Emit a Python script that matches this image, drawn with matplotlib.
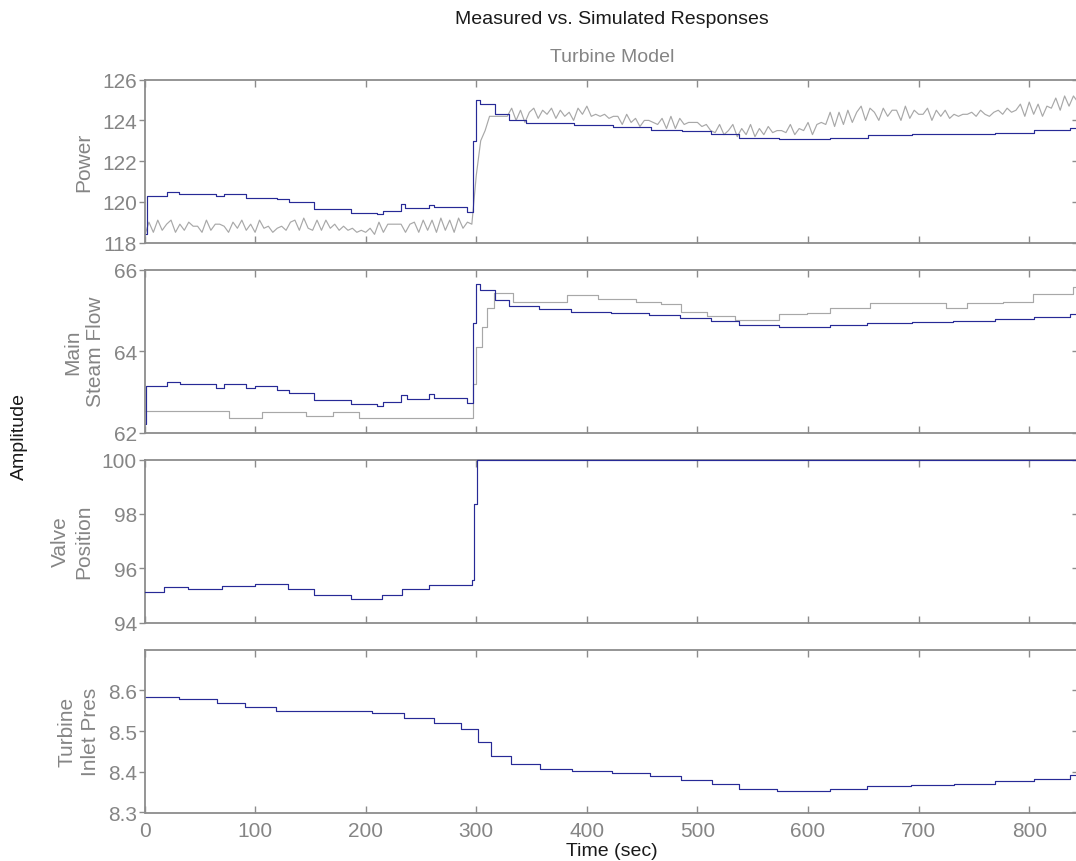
import numpy as np
import matplotlib.pyplot as plt

plt.rcParams['font.family'] = ['Liberation Sans', 'DejaVu Sans']

# Measured power, one reading every 4 s (gray, noisy)
pwr_meas_dt = 4
pwr_meas = [
    118.3, 119.0, 118.5, 119.1, 118.6, 118.9, 119.1, 118.5, 118.9, 118.6,
    119.0, 118.8, 118.8, 118.5, 119.1, 118.6, 118.9, 118.9, 118.8, 118.5,
    119.0, 118.7, 119.1, 118.6, 118.9, 118.5, 119.1, 118.7, 118.8, 118.5,
    118.7, 118.8, 118.6, 119.0, 119.1, 118.6, 119.2, 118.7, 118.6, 119.1,
    118.6, 119.1, 118.7, 118.9, 118.6, 118.8, 118.6, 118.7, 118.5, 118.6,
    118.5, 118.7, 118.4, 119.0, 118.5, 118.9, 118.9, 118.9, 118.9, 118.5,
    118.9, 119.0, 118.5, 119.1, 118.6, 119.1, 118.5, 119.2, 118.6, 119.1,
    118.5, 119.2, 118.7, 119.0, 118.9, 121.3, 123.0, 123.5, 124.2, 124.2,
    124.2, 124.2, 124.2, 124.6, 124.0, 124.5, 123.9, 124.4, 124.6, 124.1,
    124.5, 124.3, 124.6, 124.1, 124.5, 124.2, 124.4, 124.0, 124.6, 124.3,
    124.7, 124.2, 124.3, 124.2, 124.3, 124.1, 124.2, 124.2, 123.8, 124.3,
    123.9, 124.1, 123.7, 124.0, 124.0, 123.9, 123.8, 124.1, 123.6, 124.2,
    123.6, 124.1, 123.8, 123.9, 123.9, 123.9, 123.7, 123.8, 123.5, 123.4,
    123.8, 123.3, 123.5, 123.8, 123.2, 123.6, 123.3, 123.8, 123.2, 123.6,
    123.3, 123.7, 123.4, 123.5, 123.5, 123.4, 123.8, 123.3, 123.6, 123.5,
    123.9, 123.3, 123.8, 123.9, 123.8, 124.4, 123.7, 124.4, 123.8, 124.5,
    123.9, 124.4, 124.7, 124.0, 124.6, 124.4, 124.0, 124.6, 124.2, 124.5,
    124.5, 124.0, 124.7, 124.1, 124.5, 124.3, 124.3, 124.6, 124.0, 124.5,
    124.2, 124.5, 124.1, 124.3, 124.2, 124.3, 124.3, 124.4, 124.2, 124.5,
    124.3, 124.2, 124.4, 124.5, 124.3, 124.6, 124.4, 124.5, 124.8, 124.2,
    124.9, 124.3, 124.8, 124.2, 124.7, 124.6, 125.1, 124.5, 125.2, 124.7,
    125.2, 124.9,
]

# Simulated power (blue, piecewise constant)
pwr_sim_t = [0, 2, 20, 31, 65, 72, 92, 120, 131, 153, 187, 210, 216, 232, 236,
             257, 262, 292, 297, 300, 303, 317, 330, 345, 388, 424, 458, 486,
             512, 538, 574, 620, 654, 694, 769, 804, 837, 845]
pwr_sim = [118.4, 120.3, 120.5, 120.4, 120.3, 120.4, 120.2, 120.15, 120.0,
           119.65, 119.45, 119.4, 119.55, 119.88, 119.7, 119.85, 119.72, 119.52,
           123.0, 125.0, 124.8, 124.3, 124.0, 123.88, 123.77, 123.68, 123.51,
           123.46, 123.33, 123.14, 123.07, 123.14, 123.26, 123.31, 123.36,
           123.51, 123.63, 123.63]

# Measured main steam flow (gray)
flow_meas_t = [0, 76, 106, 146, 170, 194, 297, 300, 305, 310, 316, 333, 382,
               410, 444, 467, 485, 509, 534, 574, 599, 620, 656, 725, 744, 776,
               803, 840, 845]
flow_meas = [62.52, 62.35, 62.5, 62.4, 62.5, 62.35, 63.2, 64.1, 64.6, 65.05,
             65.42, 65.2, 65.37, 65.28, 65.21, 65.15, 64.97, 64.86, 64.77,
             64.92, 64.93, 65.07, 65.17, 65.05, 65.18, 65.2, 65.41, 65.58, 65.58]

# Simulated main steam flow (blue)
flow_sim_t = [0, 1, 20, 32, 65, 72, 92, 100, 120, 131, 153, 187, 210, 216, 232,
              237, 257, 262, 292, 297, 300, 303, 317, 330, 357, 386, 422, 456,
              484, 512, 538, 574, 620, 653, 694, 731, 769, 804, 837, 845]
flow_sim = [62.2, 63.15, 63.25, 63.2, 63.1, 63.2, 63.1, 63.15, 63.05, 62.98,
            62.8, 62.7, 62.65, 62.75, 62.92, 62.82, 62.95, 62.85, 62.72, 64.7,
            65.65, 65.5, 65.25, 65.1, 65.03, 64.97, 64.94, 64.88, 64.82, 64.73,
            64.63, 64.59, 64.64, 64.69, 64.71, 64.75, 64.78, 64.83, 64.92, 64.92]

# Valve position (blue)
valve_t = [0, 18, 39, 70, 100, 130, 153, 187, 215, 233, 257, 296, 298, 301, 845]
valve = [95.11, 95.3, 95.24, 95.35, 95.42, 95.25, 95.0, 94.87, 95.0, 95.25,
         95.4, 95.55, 98.35, 100.0, 100.0]

# Turbine inlet pressure (blue)
pres_t = [0, 31, 66, 91, 119, 206, 235, 262, 286, 302, 313, 331, 358, 387, 423,
          457, 485, 513, 538, 572, 620, 653, 693, 732, 769, 804, 837, 845]
pres = [8.585, 8.578, 8.57, 8.559, 8.55, 8.544, 8.532, 8.52, 8.505, 8.472,
        8.44, 8.418, 8.407, 8.402, 8.396, 8.389, 8.381, 8.369, 8.358, 8.353,
        8.358, 8.366, 8.368, 8.371, 8.377, 8.383, 8.392, 8.392]

ylabels = ['Power', 'Main\nSteam Flow', 'Valve\nPosition', 'Turbine\nInlet Pres']
ylims = [(118, 126), (62, 66), (94, 100), (8.3, 8.7)]
yticks = [[118, 120, 122, 124, 126], [62, 64, 66], [94, 96, 98, 100],
          [8.3, 8.4, 8.5, 8.6]]
xticks = [0, 100, 200, 300, 400, 500, 600, 700, 800]

blue = '#272a96'
gray_line = '#a8a8a8'
gray_txt = '#858585'
spine_c = '#8c8c8c'

W, H = 1076, 862
fig = plt.figure(figsize=(W / 100, H / 100), dpi=100)
x0, x1 = 144.5, 1079
tops = [80.7, 270.7, 460.7, 650.7]
ph = 162.8

axes = []
for i, top in enumerate(tops):
    ax = fig.add_axes([x0 / W, 1 - (top + ph) / H, (x1 - x0) / W, ph / H])
    ax.set_xlim(0, 845)
    ax.set_ylim(*ylims[i])
    ax.set_xticks(xticks)
    ax.set_yticks(yticks[i])
    for s in ax.spines.values():
        s.set_color(spine_c)
        s.set_linewidth(1.3)
    ax.tick_params(axis='x', direction='in', top=True, length=5, width=1,
                   color=spine_c, labelcolor=gray_txt, labelsize=15, pad=6)
    ax.tick_params(axis='y', direction='out', length=4, width=1,
                   color=spine_c, labelcolor=gray_txt, labelsize=15, pad=1.5)
    if i < 3:
        ax.tick_params(axis='x', labelbottom=False)
    sec = ax.secondary_yaxis('right')
    sec.set_yticks(yticks[i])
    sec.tick_params(direction='in', length=5, width=1, color=spine_c,
                    labelright=False)
    sec.spines['right'].set_color(spine_c)
    ax.set_ylabel(ylabels[i], color=gray_txt, fontsize=15, labelpad=6,
                  linespacing=1.3)
    axes.append(ax)

pwr_t = np.arange(len(pwr_meas)) * pwr_meas_dt
axes[0].plot(pwr_t, pwr_meas, color=gray_line, lw=0.85)
axes[0].plot(pwr_sim_t, pwr_sim, color=blue, lw=0.85, drawstyle='steps-post')
axes[1].plot(flow_meas_t, flow_meas, color=gray_line, lw=0.85, drawstyle='steps-post')
axes[1].plot(flow_sim_t, flow_sim, color=blue, lw=0.85, drawstyle='steps-post')
axes[2].plot(valve_t, valve, color=blue, lw=0.85, drawstyle='steps-post',
             clip_on=False, zorder=5)
axes[3].plot(pres_t, pres, color=blue, lw=0.85, drawstyle='steps-post')

axes[3].set_xlabel('Time (sec)', fontsize=14, color='#1a1a1a', labelpad=1.5)

fig.text(612 / W, 1 - 19 / H, 'Measured vs. Simulated Responses', ha='center',
         va='center', fontsize=14, color='#1a1a1a')
fig.text(612 / W, 1 - 57 / H, 'Turbine Model', ha='center', va='center',
         fontsize=14, color=gray_txt)
fig.text(19 / W, 1 - 437 / H, 'Amplitude', ha='center', va='center',
         rotation=90, fontsize=14, color='#1a1a1a')

fig.savefig('out.png', dpi=100)
